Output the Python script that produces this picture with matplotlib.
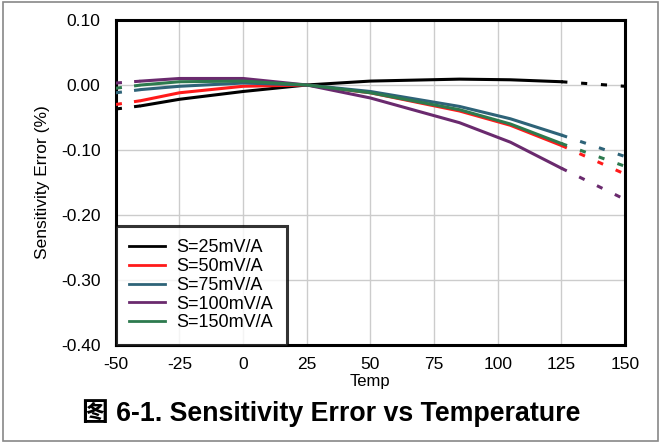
import matplotlib
matplotlib.use("Agg")
import matplotlib.pyplot as plt
from matplotlib.patches import Rectangle

plt.rcParams['font.family'] = ['Liberation Sans', 'Noto Sans CJK SC', 'DejaVu Sans']
plt.rcParams['axes.unicode_minus'] = False

# temperatures (solid part of the curves)
temps = [-40, -25, 0, 25, 50, 85, 105, 125]
# extrapolated (dotted) parts
temps_lo = [-50, -40]
temps_hi = [125, 150]

labels = ["S=25mV/A", "S=50mV/A", "S=75mV/A", "S=100mV/A", "S=150mV/A"]
colors = ["#000000", "#ff1a1a", "#2e6378", "#6a2a6e", "#2d7a4e"]

err_25 = [-0.032, -0.022, -0.010, 0.0, 0.006, 0.009, 0.008, 0.005]
err_50 = [-0.024, -0.012, -0.002, 0.0, -0.012, -0.040, -0.062, -0.093]
err_75 = [-0.007, -0.002, 0.003, 0.0, -0.010, -0.033, -0.052, -0.077]
err_100 = [0.006, 0.010, 0.010, 0.0, -0.020, -0.058, -0.088, -0.128]
err_150 = [0.000, 0.005, 0.006, 0.0, -0.012, -0.038, -0.060, -0.090]

lo_25, hi_25 = [-0.037, -0.032], [0.005, -0.002]
lo_50, hi_50 = [-0.030, -0.024], [-0.093, -0.137]
lo_75, hi_75 = [-0.012, -0.007], [-0.077, -0.110]
lo_100, hi_100 = [0.003, 0.006], [-0.128, -0.176]
lo_150, hi_150 = [-0.005, 0.000], [-0.090, -0.125]

solid = [err_25, err_50, err_75, err_100, err_150]
lows = [lo_25, lo_50, lo_75, lo_100, lo_150]
highs = [hi_25, hi_50, hi_75, hi_100, hi_150]

fig = plt.figure(figsize=(6.62, 4.44), dpi=100)
ax = fig.add_axes([0.175, 0.223, 0.769, 0.732])

for y, lo, hi, c, lab in zip(solid, lows, highs, colors, labels):
    ax.plot(temps, y, color=c, lw=2.2, label=lab, zorder=3)
    ax.plot(temps_lo, lo, color=c, lw=2.2, dashes=(2, 4), zorder=3)
    ax.plot(temps_hi, hi, color=c, lw=2.2, dashes=(2, 4.5), zorder=3)

ax.set_xlim(-50, 150)
ax.set_ylim(-0.40, 0.10)
ax.set_xticks([-50, -25, 0, 25, 50, 75, 100, 125, 150])
ax.set_yticks([-0.40, -0.30, -0.20, -0.10, 0.00, 0.10])
ax.set_yticklabels(["%.2f" % v for v in ax.get_yticks()])
ax.tick_params(length=0, labelsize=12.5)
ax.tick_params(axis="x", pad=9)
ax.tick_params(axis="y", pad=11)
ax.grid(True, color="#cccccc", lw=1)
ax.set_axisbelow(True)
for s in ax.spines.values():
    s.set_linewidth(2.2)

ax.set_xlabel("Temp", fontsize=12, labelpad=1)
ax.set_ylabel("Sensitivity Error (%)", fontsize=12.5, labelpad=8)

leg = ax.legend(loc="lower left", fontsize=13, frameon=True, fancybox=False,
                borderaxespad=0, handlelength=1.95, labelspacing=0.1,
                borderpad=0.75, handletextpad=0.65)
leg.get_frame().set_edgecolor("black")
leg.get_frame().set_linewidth(2.2)
for l in leg.get_lines():
    l.set_linewidth(2)

fig.text(0.5, 0.07, "图 6-1. Sensitivity Error vs Temperature", ha="center",
         va="center", fontsize=19.3, fontweight="bold")

fig.patches.append(Rectangle((0.004, 0.006), 0.99, 0.99, transform=fig.transFigure,
                             fill=False, edgecolor="#888888", lw=1.2))

fig.savefig("out.png", dpi=100)
